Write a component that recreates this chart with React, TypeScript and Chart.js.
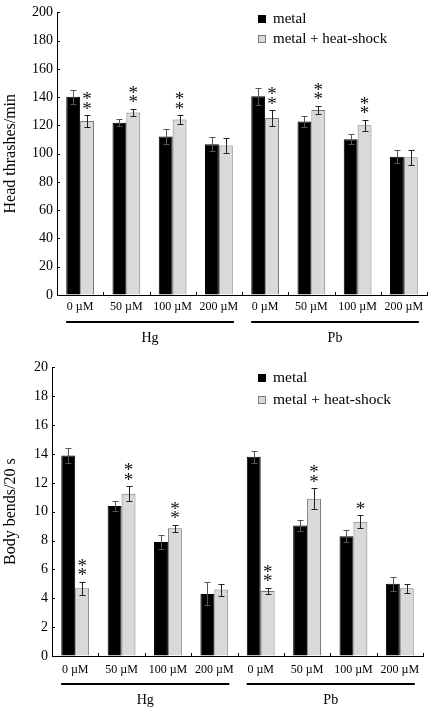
import React, { useEffect, useRef } from 'react';
import { Chart, registerables } from 'chart.js';

Chart.register(...registerables);

// ---------- data ----------
const doses = ['0 µM', '50 µM', '100 µM', '200 µM', '0 µM', '50 µM', '100 µM', '200 µM'];
const metalGroups = ['Hg', 'Pb'];
const seriesNames = ['metal', 'metal + heat-shock'];

const thrashMetal = [140.3, 121.9, 112.1, 106.7, 140.7, 122.8, 110.2, 97.9];
const thrashMetalErr = [5, 2.5, 5.5, 5, 6, 4, 3.5, 4.7];
const thrashHeat = [123.2, 129.2, 124.2, 105.8, 125.3, 130.9, 120.2, 97.4];
const thrashHeatErr = [4, 2.5, 3, 5, 5.5, 3, 3.8, 5.3];
const thrashStars = ['**', '**', '**', '', '**', '**', '**', ''];

const bendMetal = [13.9, 10.4, 7.9, 4.3, 13.8, 9.05, 8.3, 5.0];
const bendMetalErr = [0.5, 0.35, 0.5, 0.8, 0.4, 0.37, 0.42, 0.5];
const bendHeat = [4.7, 11.25, 8.85, 4.6, 4.5, 10.9, 9.3, 4.7];
const bendHeatErr = [0.45, 0.5, 0.25, 0.42, 0.23, 0.72, 0.44, 0.3];
const bendStars = ['**', '**', '**', '', '**', '**', '*', ''];

const SERIF = '"Liberation Serif", "Times New Roman", serif';
const GRAY_FILL = '#d9d9d9';
const GRAY_EDGE = '#7a7a7a';

type Layout = {
  padTop: number;
  padRight: number;
  yWidth: number;
  xHeight: number;
  xPad: number;
  legendY: [number, number];
  legendFont: number;
  groupLineDy: number;
  groupLabelDy: number;
};

type PanelProps = {
  top: number;
  height: number;
  yTitle: string;
  yMax: number;
  yStep: number;
  metal: number[];
  metalErr: number[];
  heat: number[];
  heatErr: number[];
  stars: string[];
  layout: Layout;
};

function Panel(props: PanelProps) {
  const ref = useRef<HTMLCanvasElement | null>(null);

  useEffect(() => {
    const canvas = ref.current;
    if (!canvas) return;
    const L = props.layout;
    const errs = [props.metalErr, props.heatErr];

    const decor = {
      id: 'decor',
      afterDatasetsDraw(chart: any) {
        const ctx = chart.ctx;
        const y = chart.scales.y;
        ctx.save();
        // error bars
        ctx.lineWidth = 1;
        chart.data.datasets.forEach((ds: any, di: number) => {
          const meta = chart.getDatasetMeta(di);
          meta.data.forEach((bar: any, i: number) => {
            const v = ds.data[i];
            const e = errs[di][i];
            const x = Math.round(bar.x) + 0.5;
            const yHi = Math.round(y.getPixelForValue(v + e)) + 0.5;
            const yLo = Math.round(y.getPixelForValue(v - e)) + 0.5;
            ctx.strokeStyle = di === 0 ? '#555' : '#222';
            ctx.beginPath();
            ctx.moveTo(x, yHi);
            ctx.lineTo(x, yLo);
            ctx.moveTo(x - 3, yHi);
            ctx.lineTo(x + 3, yHi);
            ctx.moveTo(x - 3, yLo);
            ctx.lineTo(x + 3, yLo);
            ctx.stroke();
          });
        });
        // significance stars above the heat-shock bars
        const meta1 = chart.getDatasetMeta(1);
        ctx.fillStyle = '#111';
        ctx.font = `19px ${SERIF}`;
        ctx.textAlign = 'center';
        ctx.textBaseline = 'alphabetic';
        const m = ctx.measureText('*');
        const shift = (m.actualBoundingBoxAscent - m.actualBoundingBoxDescent) / 2;
        props.stars.forEach((s: string, i: number) => {
          if (!s) return;
          const bar = meta1.data[i];
          const cap = y.getPixelForValue(props.heat[i] + props.heatErr[i]);
          for (let k = 0; k < s.length; k++) {
            const cy = cap - 10 - k * 9.5;
            ctx.fillText('*', bar.x, cy + shift);
          }
        });
        ctx.restore();
      },
      afterDraw(chart: any) {
        const ctx = chart.ctx;
        const x = chart.scales.x;
        const y = chart.scales.y;
        const area = chart.chartArea;
        ctx.save();
        ctx.strokeStyle = '#000';
        ctx.lineWidth = 1;
        // inward tick marks on the x axis (category boundaries)
        const n = doses.length;
        const step = (area.right - area.left) / n;
        ctx.beginPath();
        for (let i = 1; i <= n; i++) {
          const px = Math.round(area.left + step * i) + 0.5;
          ctx.moveTo(px, area.bottom);
          ctx.lineTo(px, area.bottom - 3);
        }
        // inward tick marks on the y axis
        for (let v = 0; v <= props.yMax; v += props.yStep) {
          const py = Math.round(y.getPixelForValue(v)) + 0.5;
          ctx.moveTo(area.left, py);
          ctx.lineTo(area.left + 3, py);
        }
        ctx.stroke();

        // group lines and labels
        ctx.lineWidth = 2;
        ctx.fillStyle = '#000';
        ctx.font = `14px ${SERIF}`;
        ctx.textAlign = 'center';
        ctx.textBaseline = 'middle';
        metalGroups.forEach((g, gi) => {
          const first = x.getPixelForValue(gi * 4);
          const last = x.getPixelForValue(gi * 4 + 3);
          const x0 = first - 14;
          const x1 = last + 15;
          const ly = area.bottom + L.groupLineDy;
          ctx.beginPath();
          ctx.moveTo(x0, ly);
          ctx.lineTo(x1, ly);
          ctx.stroke();
          ctx.fillText(g, (x0 + x1) / 2, area.bottom + L.groupLabelDy);
        });

        // legend
        ctx.font = `${L.legendFont}px ${SERIF}`;
        ctx.textAlign = 'left';
        ctx.textBaseline = 'middle';
        ctx.lineWidth = 1;
        seriesNames.forEach((name, si) => {
          const cy = L.legendY[si];
          if (si === 0) {
            ctx.fillStyle = '#000';
            ctx.fillRect(258, cy - 4, 8, 8);
          } else {
            ctx.fillStyle = GRAY_FILL;
            ctx.fillRect(258, cy - 4, 8, 8);
            ctx.strokeStyle = GRAY_EDGE;
            ctx.strokeRect(258.5, cy - 3.5, 7, 7);
          }
          ctx.fillStyle = '#000';
          ctx.fillText(name, 273, cy);
        });
        ctx.restore();
      },
    };

    const chart = new Chart(canvas, {
      type: 'bar',
      data: {
        labels: doses,
        datasets: [
          {
            label: seriesNames[0],
            data: props.metal,
            backgroundColor: '#000',
            borderColor: '#000',
            borderWidth: 1,
          },
          {
            label: seriesNames[1],
            data: props.heat,
            backgroundColor: GRAY_FILL,
            borderColor: GRAY_EDGE,
            borderWidth: 1,
          },
        ],
      },
      options: {
        animation: false,
        responsive: false,
        maintainAspectRatio: false,
        events: [],
        layout: { padding: { top: L.padTop, right: L.padRight, left: 0, bottom: 0 } },
        datasets: { bar: { categoryPercentage: 0.6, barPercentage: 1 } },
        plugins: { legend: { display: false }, tooltip: { enabled: false } },
        scales: {
          x: {
            grid: { display: true, drawOnChartArea: false, drawTicks: false },
            border: { display: true, color: '#000', width: 1 },
            ticks: {
              color: '#000',
              font: { family: SERIF, size: 12 },
              padding: L.xPad,
              maxRotation: 0,
              autoSkip: false,
            },
            afterFit: (s: any) => {
              s.height = L.xHeight;
            },
          },
          y: {
            min: 0,
            max: props.yMax,
            grid: { display: true, drawOnChartArea: false, drawTicks: false },
            border: { display: true, color: '#000', width: 1 },
            ticks: {
              stepSize: props.yStep,
              color: '#000',
              font: { family: SERIF, size: 14 },
              padding: 4,
            },
            title: {
              display: true,
              text: props.yTitle,
              color: '#000',
              font: { family: SERIF, size: 16 },
              padding: { top: 1, bottom: 0 },
            },
            afterFit: (s: any) => {
              s.width = L.yWidth;
            },
          },
        },
      },
      plugins: [decor],
    } as any);

    return () => chart.destroy();
  }, []);

  return (
    <canvas
      ref={ref}
      width={430}
      height={props.height}
      style={{ position: 'absolute', left: 0, top: props.top, width: 430, height: props.height, display: 'block' }}
    />
  );
}

export default function App() {
  return (
    <div style={{ position: 'absolute', left: 0, top: 0, width: 430, height: 710, background: '#fff' }}>
      <Panel
        top={0}
        height={355}
        yTitle="Head thrashes/min"
        yMax={200}
        yStep={20}
        metal={thrashMetal}
        metalErr={thrashMetalErr}
        heat={thrashHeat}
        heatErr={thrashHeatErr}
        stars={thrashStars}
        layout={{
          padTop: 7,
          padRight: 3,
          yWidth: 57,
          xHeight: 60,
          xPad: 5,
          legendY: [19, 39],
          legendFont: 15,
          groupLineDy: 27,
          groupLabelDy: 43,
        }}
      />
      <Panel
        top={355}
        height={355}
        yTitle="Body bends/20 s"
        yMax={20}
        yStep={2}
        metal={bendMetal}
        metalErr={bendMetalErr}
        heat={bendHeat}
        heatErr={bendHeatErr}
        stars={bendStars}
        layout={{
          padTop: 12,
          padRight: 7,
          yWidth: 52,
          xHeight: 54,
          xPad: 7,
          legendY: [23, 45],
          legendFont: 15.5,
          groupLineDy: 28,
          groupLabelDy: 44,
        }}
      />
    </div>
  );
}
